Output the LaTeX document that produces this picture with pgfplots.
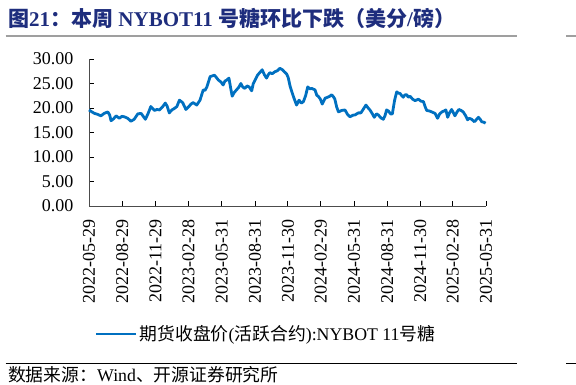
\documentclass[border=0pt]{standalone}
\usepackage{pgfplots}
\pgfplotsset{compat=1.18}
\usepackage{fontspec}
\setmainfont{Liberation Serif}
\newfontfamily\cjk{Noto Sans CJK SC}
\definecolor{titleblue}{RGB}{30,45,125}
\definecolor{lineblue}{RGB}{0,112,192}
\begin{document}
\begin{tikzpicture}
\path[use as bounding box] (0pt,0pt) rectangle (576pt,385pt);
% title
\node[anchor=west,inner sep=0pt,text=titleblue,font=\fontsize{21}{23}\selectfont\bfseries] at (8pt,367pt) {{\cjk 图}21{\cjk ：本周} NYBOT11 {\cjk 号糖环比下跌（美分}/{\cjk 磅）}};
\draw[gray!75,line width=1.8pt] (5.5pt,349pt) -- (516.5pt,349pt);
\draw[gray!75,line width=1.8pt] (566pt,349pt) -- (576pt,349pt);
% source
\draw[black,line width=0.8pt] (5.5pt,22pt) -- (516.5pt,22pt);
\draw[black,line width=0.8pt] (566pt,22pt) -- (576pt,22pt);
\node[anchor=west,inner sep=0pt,font=\fontsize{17.8}{20}\selectfont] at (8pt,10.5pt) {{\cjk 数据来源：}Wind{\cjk 、开源证券研究所}};
\begin{axis}[
  at={(89pt,179pt)}, anchor=south west,
  scale only axis, width=397pt, height=147pt,
  xmin=0, xmax=1098, ymin=0, ymax=30,
  axis x line*=bottom, axis y line*=left,
  axis line style={black!70, line width=0.9pt},
  tick style={black, line width=0.8pt},
  tick align=inside, major tick length=5pt,
  xtick={0,92,184,275,367,459,550,641,733,825,916,1006,1098},
  xticklabels={2022-05-29,2022-08-29,2022-11-29,2023-02-28,2023-05-31,2023-08-31,2023-11-30,2024-02-29,2024-05-31,2024-08-31,2024-11-30,2025-02-28,2025-05-31},
  xticklabel style={rotate=90, anchor=east, xshift=-10pt, font=\fontsize{18}{20}\selectfont},
  ytick={0,5,10,15,20,25,30},
  yticklabel style={xshift=-12pt, font=\fontsize{18}{20}\selectfont},
  /pgf/number format/assume math mode=true,
  yticklabel={\pgfmathprintnumber[fixed,fixed zerofill,precision=2]{\tick}},
  legend style={at={(0.446,-0.871)}, anchor=center, draw=none, fill=none,
    font=\fontsize{17.8}{20}\selectfont, inner sep=0pt},
  legend image code/.code={\draw[#1,line width=2.8pt] (0pt,0pt) -- (40pt,0pt);},
  clip=false,
]
\addplot[lineblue, line width=2.8pt, line join=round] coordinates {
(0,19.6)(8,19.2)(15,18.9)(24,18.7)(33,18.4)(42,18.9)(52,19.2)(57,18.6)(61,17.4)(68,17.8)
(75,18.4)(84,17.9)(91,18.3)(98,18.2)(107,17.9)(116,17.3)(125,17.7)(135,18.8)(144,18.9)(150,18.3)
(156,17.7)(163,18.8)(171,20.3)(181,19.5)(188,19.7)(195,19.6)(203,20.2)(211,21.0)(216,20.4)(222,19.0)
(229,19.6)(236,19.9)(243,20.3)(250,21.6)(259,21.1)(268,19.7)(275,20.2)(282,20.8)(288,21.1)(298,20.6)
(307,21.6)(316,23.7)(321,23.6)(326,24.3)(335,26.4)(347,26.7)(358,25.7)(365,25.3)(371,24.7)(376,25.5)
(381,25.7)(387,26.1)(392,24.0)(396,22.4)(402,23.2)(408,23.7)(414,24.2)(420,25.0)(425,24.3)(431,24.0)
(437,24.5)(443,24.3)(450,23.5)(454,24.9)(460,25.8)(466,26.7)(472,27.2)(479,27.8)(485,26.8)(491,26.1)
(496,26.8)(500,27.2)(507,27.0)(514,27.4)(521,27.6)(528,28.1)(535,27.8)(540,27.4)(547,26.9)(551,26.2)
(556,24.5)(561,23.3)(567,22.0)(574,20.6)(581,21.6)(587,21.0)(593,21.3)(599,22.5)(605,24.3)(611,23.9)
(616,24.0)(625,23.7)(630,22.6)(634,22.4)(640,21.8)(645,20.8)(653,22.0)(660,22.2)(666,22.4)(671,22.7)
(676,22.3)(680,21.8)(685,20.2)(690,19.2)(699,19.5)(708,19.6)(715,18.7)(722,18.2)(729,18.5)(736,18.6)
(745,19.0)(752,19.0)(759,19.8)(766,20.6)(772,20.0)(777,19.6)(783,18.9)(789,18.1)(795,18.8)(800,18.6)
(807,18.0)(814,17.7)(819,18.5)(823,19.6)(828,19.4)(834,18.8)(839,18.8)(845,21.5)(851,23.3)(856,23.0)
(860,23.0)(865,22.5)(869,22.2)(874,22.7)(879,22.7)(883,22.2)(888,22.4)(895,21.8)(902,21.5)(911,21.8)
(918,21.4)(925,21.3)(930,20.2)(934,19.5)(941,19.4)(948,19.2)(957,18.9)(964,17.9)(970,18.8)(976,19.2)
(982,19.4)(987,19.6)(992,18.1)(997,19.0)(1003,19.7)(1012,18.4)(1018,19.2)(1023,19.7)(1029,19.5)(1035,19.2)
(1041,18.5)(1047,17.6)(1052,17.9)(1058,17.7)(1066,17.2)(1071,17.6)(1077,18.1)(1082,17.7)(1086,17.2)(1092,17.1)
(1097,16.9)
};
\addlegendentry{{\cjk 期货收盘价}({\cjk 活跃合约}):NYBOT 11{\cjk 号糖}}
\end{axis}
\end{tikzpicture}
\end{document}
